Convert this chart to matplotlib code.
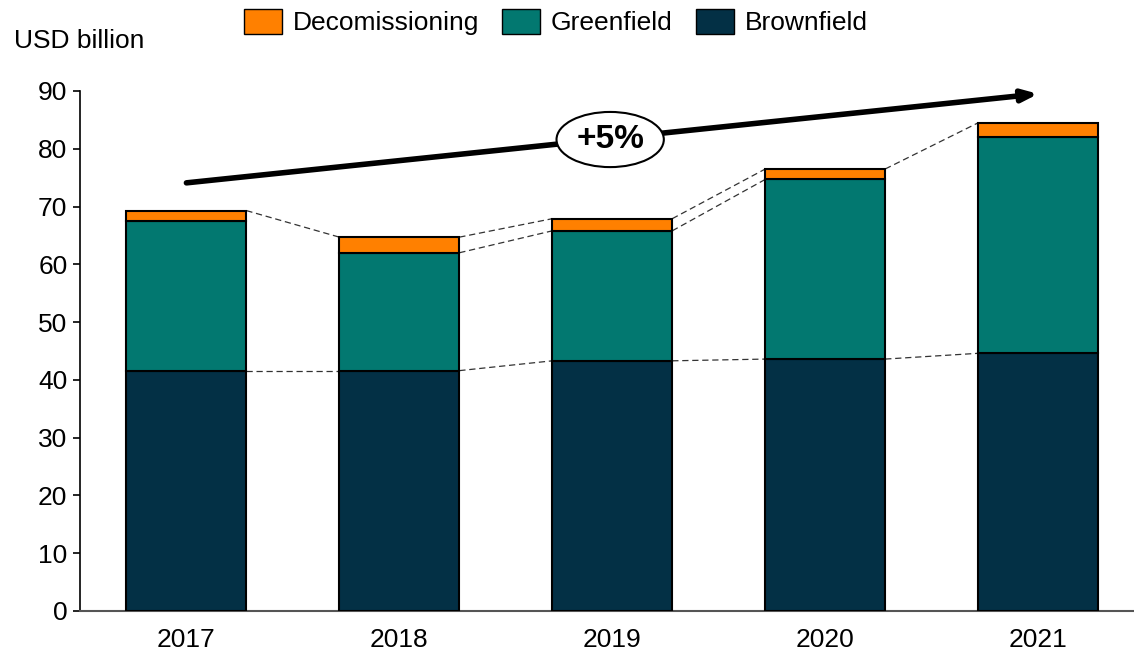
import matplotlib
matplotlib.use('Agg')
import matplotlib.pyplot as plt
from matplotlib.patches import Patch
import numpy as np

plt.rcParams['font.family'] = ['Liberation Sans', 'DejaVu Sans']

# Data (USD billion)
years = ['2017', '2018', '2019', '2020', '2021']
brownfield = [41.6, 41.6, 43.3, 43.6, 44.6]
greenfield = [25.9, 20.4, 22.5, 31.1, 37.4]
decommissioning = [1.8, 2.7, 2.1, 1.8, 2.5]
growth_label = '+5%'

COLORS = {
    'brown': '#033045',
    'green': '#027870',
    'decom': '#FF8000',
}

FS = 19

fig = plt.figure(figsize=(11.34, 6.56), dpi=100)
ax = fig.add_axes([0.0705, 0.0686, 0.9295, 0.7927])

x = np.arange(len(years))
width = 0.563
b = np.array(brownfield)
g = np.array(greenfield)
d = np.array(decommissioning)

ax.bar(x, b, width, color=COLORS['brown'], edgecolor='black', linewidth=1.5, zorder=3)
ax.bar(x, g, width, bottom=b, color=COLORS['green'], edgecolor='black', linewidth=1.5, zorder=3)
ax.bar(x, d, width, bottom=b + g, color=COLORS['decom'], edgecolor='black', linewidth=1.5, zorder=3)

# dashed connectors between bars
tops = {'brown': b, 'green': b + g, 'decom': b + g + d}
green_links = [1, 2]  # only 2018->2019 and 2019->2020 have green-top connectors
for i in range(len(years) - 1):
    for key in ['brown', 'decom']:
        ax.plot([x[i] + width / 2, x[i + 1] - width / 2], [tops[key][i], tops[key][i + 1]],
                color='#333333', linestyle=(0, (5, 3)), linewidth=0.9, zorder=2)
    if i in green_links:
        ax.plot([x[i] + width / 2, x[i + 1] - width / 2], [tops['green'][i], tops['green'][i + 1]],
                color='#333333', linestyle=(0, (5, 3)), linewidth=0.9, zorder=2)

# growth arrow
ax.annotate('', xy=(4.0, 89.5), xytext=(0.0, 74.1),
            arrowprops=dict(arrowstyle='-|>,head_length=0.9,head_width=0.35',
                            color='black', lw=4, shrinkA=0, shrinkB=0),
            annotation_clip=False, zorder=4)
ax.text(1.99, 81.6, growth_label, ha='center', va='center', fontsize=24, fontweight='bold',
        bbox=dict(boxstyle='ellipse,pad=0.12', fc='white', ec='black', lw=1.5), zorder=5)

ax.set_xlim(-0.5, 4.45)
ax.set_ylim(0, 90)
ax.set_yticks(np.arange(0, 91, 10))
ax.set_xticks(x)
ax.set_xticklabels(years)
ax.tick_params(axis='y', labelsize=FS, length=5, width=1.2, direction='out', pad=4)
ax.tick_params(axis='x', labelsize=FS, length=0, pad=12)
for s in ['top', 'right']:
    ax.spines[s].set_visible(False)
ax.spines['left'].set_linewidth(1.2)
ax.spines['bottom'].set_color('#555555')
ax.spines['bottom'].set_linewidth(1.5)

fig.text(0.012, 0.938, 'USD billion', fontsize=FS, ha='left', va='center')

handles = [Patch(facecolor=COLORS['decom'], edgecolor='black', label='Decomissioning'),
           Patch(facecolor=COLORS['green'], edgecolor='black', label='Greenfield'),
           Patch(facecolor=COLORS['brown'], edgecolor='black', label='Brownfield')]
fig.legend(handles=handles, loc='center', bbox_to_anchor=(0.49, 0.966), ncol=3,
           frameon=False, fontsize=FS, handlelength=1.44, handleheight=1.06,
           handletextpad=0.42, columnspacing=0.87, borderaxespad=0)

fig.savefig('out.png', dpi=100)
